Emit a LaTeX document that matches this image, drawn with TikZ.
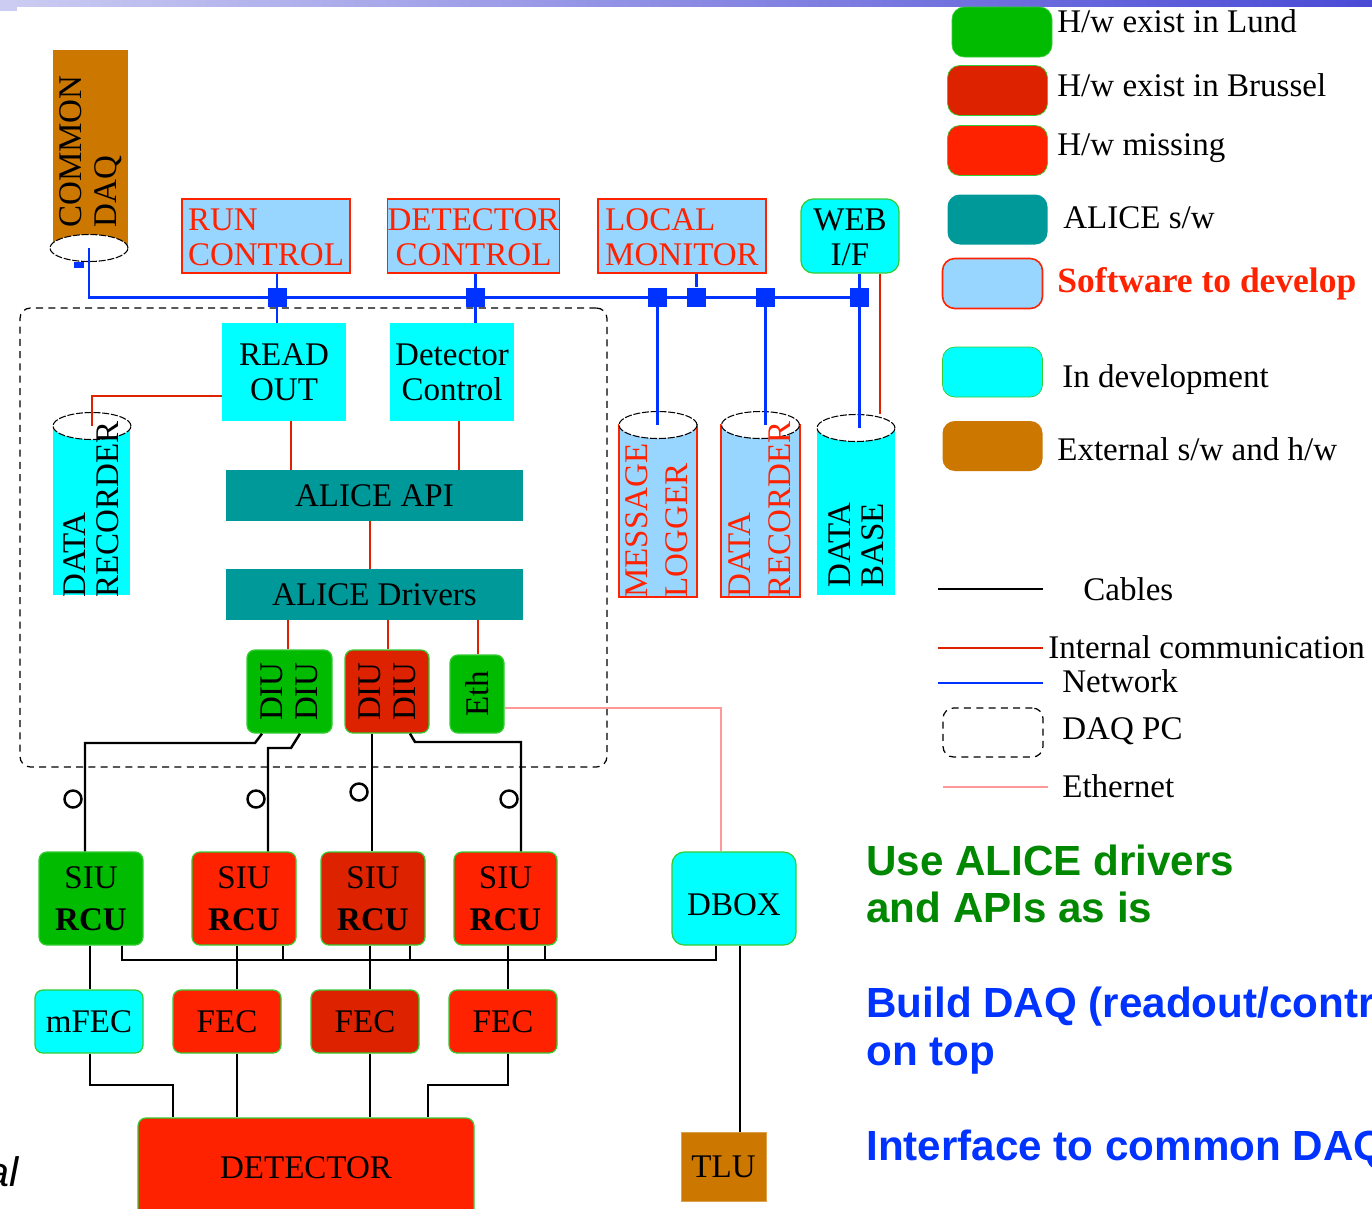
\documentclass[tikz,border=0pt]{standalone}
\usepackage{fontspec}
\setmainfont{Liberation Serif}
\newfontfamily\slidefont{Liberation Sans}
\usetikzlibrary{shapes.geometric}
% colours of the key
\definecolor{lund}{HTML}{00BB00}
\definecolor{brussel}{HTML}{DD2200}
\definecolor{missing}{HTML}{FF2200}
\definecolor{alicesw}{HTML}{009999}
\definecolor{todev}{HTML}{99D6FF}
\definecolor{indev}{HTML}{00FFFF}
\definecolor{extern}{HTML}{CC7700}
\definecolor{hwline}{HTML}{33CC33}
\definecolor{netblue}{HTML}{0033FF}
\definecolor{intred}{HTML}{DD2200}
\definecolor{ethpink}{HTML}{FF9999}
\definecolor{usegreen}{HTML}{008800}
\definecolor{barl}{HTML}{CCCCF2}
\definecolor{barr}{HTML}{4A4AD6}
\tikzset{
  sz/.style 2 args={minimum width=#1*0.02cm,minimum height=#2*0.02cm},
  hw/.style={draw=hwline,line width=0.7pt,rounded corners=4.5pt,inner sep=0pt,align=center},
  sw/.style={draw=missing,fill=todev,line width=0.9pt,inner sep=0pt,align=left,text=missing},
  dev/.style={fill=indev,inner sep=0pt,align=center},
  api/.style={fill=alicesw,inner sep=0pt},
  lid/.style={ellipse,draw,dash pattern=on 4pt off 1pt,fill=white,line width=0.6pt,inner sep=0pt,sz={78}{27}},
  jn/.style={fill=netblue,minimum size=0.38cm,inner sep=0pt},
  plug/.style={circle,draw,line width=1.4pt,minimum size=0.34cm,inner sep=0pt},
  net/.style={netblue,line width=1.7pt},
  intc/.style={intred,line width=1.1pt},
  cable/.style={black,line width=1.4pt},
  bus/.style={black,line width=0.8pt},
  ethl/.style={ethpink,line width=1.1pt},
  vtxt/.style={rotate=90,anchor=west,align=left,inner sep=0pt},
  swatch/.style={rounded corners=7pt,sz={100}{50},inner sep=0pt},
  keytxt/.style={anchor=base west,inner sep=0pt},
  aim/.style={anchor=base west,inner sep=0pt,font=\slidefont\bfseries\fontsize{24}{27}\selectfont},
}
\begin{document}
\begin{tikzpicture}[x=0.02cm,y=-0.02cm,font=\fontsize{18.8}{20}\selectfont]
\useasboundingbox[fill=white] (0,0) rectangle (1372,1208);
\clip (0,0) rectangle (1372,1208);
\shade[left color=barl,right color=barr] (0,0) rectangle (1372,6);
\fill[barl] (0,0) rectangle (17,11);
          % DAQ PC frame
\node[draw,dash pattern=on 4pt off 3pt,rounded corners=6pt,line width=0.7pt,sz={587}{459}] (daqpc) at (313.5,537.5) {};
          % Common DAQ
\node[fill=extern,sz={75}{198}] (cdaq) at (90.5,149) {};
\node[lid] (cdlid) at (89,248) {};
\node[vtxt] (cdtxt) at (91,228) {COMMON\\DAQ};
\node[fill=netblue,sz={10}{6},inner sep=0pt] (cdport) at (79,265) {};
          % Software row
\node[sw,sz={168}{74}] (runc) at (266,236) {\strut RUN\\CONTROL};%todev
\node[sw,align=center,sz={167}{74}] (detc) at (473.5,236) {\strut DETECTOR\\CONTROL};%todev
\node[sw,sz={168}{74}] (locm) at (682,236) {\strut LOCAL\\MONITOR};%todev
\node[hw,fill=indev,sz={98}{74},rounded corners=7pt] (web) at (850,236) {\strut WEB\\I/F};%indev
\node[jn] (j1) at (277,297) {};
\node[jn] (j2) at (475,297) {};
\node[jn] (j3) at (657,297) {};
\node[jn] (j4) at (696,297) {};
\node[jn] (j5) at (765,297) {};
\node[jn] (j6) at (859,297) {};
          % Inside the DAQ PC
\node[dev,sz={124}{98}] (ro) at (284,372) {READ\\OUT};
\node[dev,sz={124}{98}] (dc) at (452,372) {Detector\\Control};
\node[fill=indev,sz={77}{169}] (drl) at (91.5,510.5) {};
\node[lid] (drllid) at (92,426) {};
\node[vtxt,font=\fontsize{18.8}{18.7}\selectfont] (drltxt) at (91.5,598) {DATA\\RECORDER};
\node[api,sz={297}{51}] (api) at (374.5,495.5) {ALICE API};
\node[api,sz={297}{51}] (drv) at (374.5,594.5) {ALICE Drivers};
\node[hw,fill=lund,rotate=90,sz={83}{85}] (diu1) at (289.5,691.5) {DIU\\DIU};%Lund
\node[hw,fill=brussel,rotate=90,sz={83}{84}] (diu2) at (387,691.5) {DIU\\DIU};%Brussel
\node[hw,fill=lund,rotate=90,sz={78}{54}] (eth) at (477,694) {Eth};%Lund
          % Storage
\node[draw=missing,fill=todev,line width=0.9pt,sz={78}{172}] (ml) at (658,511) {};
\node[lid] (mllid) at (658,425) {};
\node[vtxt,text=missing,font=\fontsize{18.8}{22.7}\selectfont] (mltxt) at (657,598) {MESSAGE\\LOGGER};
\node[draw=missing,fill=todev,line width=0.9pt,sz={79}{172}] (drr) at (760.5,511) {};
\node[lid] (drrlid) at (760.5,425) {};
\node[vtxt,text=missing,font=\fontsize{18.8}{22.7}\selectfont] (drrtxt) at (760,598) {DATA\\RECORDER};
\node[fill=indev,sz={78}{167}] (db) at (856,511.5) {};
\node[lid] (dblid) at (856,428) {};
\node[vtxt,font=\fontsize{18.8}{18.7}\selectfont] (dbtxt) at (856.5,588) {DATA\\BASE};
          % Front end
\node[hw,fill=lund,sz={104}{93},font=\fontsize{18.8}{24}\selectfont] (siu1) at (91,898.5) {SIU\\\textbf{RCU}};%Lund
\node[hw,fill=missing,sz={104}{93},font=\fontsize{18.8}{24}\selectfont] (siu2) at (244,898.5) {SIU\\\textbf{RCU}};%missing
\node[hw,fill=brussel,sz={104}{93},font=\fontsize{18.8}{24}\selectfont] (siu3) at (373,898.5) {SIU\\\textbf{RCU}};%Brussel
\node[hw,fill=missing,sz={103}{93},font=\fontsize{18.8}{24}\selectfont] (siu4) at (505.5,898.5) {SIU\\\textbf{RCU}};%missing
\node[hw,fill=indev,sz={124}{93},rounded corners=7pt,text height=19pt] (dbox) at (734,898.5) {DBOX};
\node[hw,fill=indev,sz={108}{63}] (mfec) at (89,1021.5) {mFEC};
\node[hw,fill=missing,sz={108}{63}] (fec2) at (227,1021.5) {FEC};
\node[hw,fill=brussel,sz={108}{63}] (fec3) at (365,1021.5) {FEC};
\node[hw,fill=missing,sz={108}{63}] (fec4) at (503,1021.5) {FEC};
\node[hw,fill=missing,sz={336}{100}] (det) at (306,1168) {DETECTOR};
\node[fill=extern,draw=extern!70,inner sep=0pt,sz={85}{69}] (tlu) at (723.5,1166.5) {TLU};
\node[plug] (plug1) at (73,799) {};
\node[plug] (plug2) at (256,799) {};
\node[plug] (plug3) at (359,792) {};
\node[plug] (plug4) at (509,799) {};
          %Network
\draw[net] (cdlid.center) |- (j6.east);
\draw[net] (runc.south -| j1) -- (ro.north -| j1);
\draw[net] (detc.south -| j2) -- (dc.north -| j2);
\draw[net] (j3) -- (mllid.center -| j3);
\draw[net] (locm.south -| j4) -- (j4);
\draw[net] (j5) -- (drrlid.center -| j5);
\draw[net] (web.south -| j6) -- (dblid.center -| j6);
          %Internal communication
\draw[intc] (ro.west |- 0,396) -| (drllid.center);
\draw[intc] (ro.south -| 291,0) -- (api.north -| 291,0);
\draw[intc] (dc.south -| 459,0) -- (api.north -| 459,0);
\draw[intc] (api.south -| 370,0) -- (drv.north -| 370,0);
\draw[intc] (drv.south -| 288,0) -- (diu1.east -| 288,0);
\draw[intc] (drv.south -| 388,0) -- (diu2.east -| 388,0);
\draw[intc] (drv.south -| 478,0) -- (eth.east -| 478,0);
\draw[intc] (web.south -| 880,0) -- (dblid.north -| 880,0);
          %Cables
\draw[cable] (diu1.west -| 262,0) -- (255,743) -- (85,743) -- (siu1.north -| 85,0);
\draw[cable] (diu1.west -| 300,0) -- (291,748) -- (268,748) -- (siu2.north -| 268,0);
\draw[cable] (diu2.west -| 372,0) -- (siu3.north -| 372,0);
\draw[cable] (diu2.west -| 410,0) -- (415,742) -- (521,742) -- (siu4.north -| 521,0);
\draw[bus] (siu1.south -| 122,0) -- (122,960) -| (dbox.south -| 716,0);
\draw[bus] (siu2.south -| 283,0) -- (283,960);
\draw[bus] (siu3.south -| 410,0) -- (410,960);
\draw[bus] (siu4.south -| 545,0) -- (545,960);
\draw[cable] (siu1.south -| 90,0) -- (mfec.north -| 90,0);
\draw[cable] (siu2.south -| 237,0) -- (fec2.north -| 237,0);
\draw[cable] (siu3.south -| 370,0) -- (fec3.north -| 370,0);
\draw[cable] (siu4.south -| 508,0) -- (fec4.north -| 508,0);
\draw[cable] (mfec.south -| 90,0) |- (173,1085) -- (det.north -| 173,0);
\draw[cable] (fec2.south -| 237,0) -- (det.north -| 237,0);
\draw[cable] (fec3.south -| 370,0) -- (det.north -| 370,0);
\draw[cable] (fec4.south -| 508,0) |- (428,1085) -- (det.north -| 428,0);
\draw[cable] (dbox.south -| 740,0) -- (tlu.north -| 740,0);
\draw[ethl] (eth.south |- 0,708) -| (dbox.north -| 721,0);
          % Key
\node[swatch,fill=lund,draw=hwline] (k1) at (1002,32) {};
\node[keytxt] (k1t) at (1057,32) {H/w exist in Lund};
\node[swatch,fill=brussel,draw=hwline] (k2) at (997.5,90.5) {};
\node[keytxt] (k2t) at (1057,96) {H/w exist in Brussel};
\node[swatch,fill=missing,draw=hwline] (k3) at (997.5,150.5) {};
\node[keytxt] (k3t) at (1057,155) {H/w missing};
\node[swatch,fill=alicesw] (k4) at (997.5,219.5) {};
\node[keytxt] (k4t) at (1063,228) {ALICE s/w};
\node[swatch,fill=todev,draw=missing,line width=0.9pt] (k5) at (992.5,283.5) {};
\node[keytxt,text=missing,font=\bfseries\fontsize{20.2}{22}\selectfont] (k5t) at (1057,292) {Software to develop};
\node[swatch,fill=indev,draw=hwline] (k6) at (992.5,372) {};
\node[keytxt] (k6t) at (1062,387) {In development};
\node[swatch,fill=extern] (k7) at (992.5,446) {};
\node[keytxt] (k7t) at (1057,460) {External s/w and h/w};
\coordinate (l1a) at (938,589); \coordinate (l1b) at (1043,589);
\coordinate (l2a) at (938,648); \coordinate (l2b) at (1043,648);
\coordinate (l3a) at (938,683); \coordinate (l3b) at (1043,683);
\coordinate (l5a) at (943,787); \coordinate (l5b) at (1048,787);
\draw[black,line width=1.2pt] (l1a) -- (l1b);
\draw[intc,line width=1.4pt] (l2a) -- (l2b);
\draw[net,line width=1.2pt] (l3a) -- (l3b);
\draw[ethl] (l5a) -- (l5b);
\node[draw,dash pattern=on 4pt off 3pt,rounded corners=6pt,line width=0.7pt,sz={100}{49}] (k8) at (993,732.5) {};
\node[keytxt] (l1t) at (1083,600) {Cables};
\node[keytxt] (l2t) at (1048,658) {Internal communication};
\node[keytxt] (l3t) at (1062,692) {Network};
\node[keytxt] (k8t) at (1062,739) {DAQ PC};
\node[keytxt] (l5t) at (1062,797) {Ethernet};
          % Slide text
\node[aim,text=usegreen] (aim1) at (866,875) {Use ALICE drivers};
\node[aim,text=usegreen] (aim2) at (866,922) {and APIs as is};
\node[aim,text=netblue] (aim3) at (866,1017) {Build DAQ (readout/control) software};
\node[aim,text=netblue] (aim4) at (866,1065) {on top};
\node[aim,text=netblue] (aim5) at (866,1160) {Interface to common DAQ};
\node[anchor=base east,inner sep=0pt,font=\slidefont\itshape\fontsize{23.5}{26}\selectfont] (cutal) at (19,1186) {al};
\end{tikzpicture}
\end{document}
